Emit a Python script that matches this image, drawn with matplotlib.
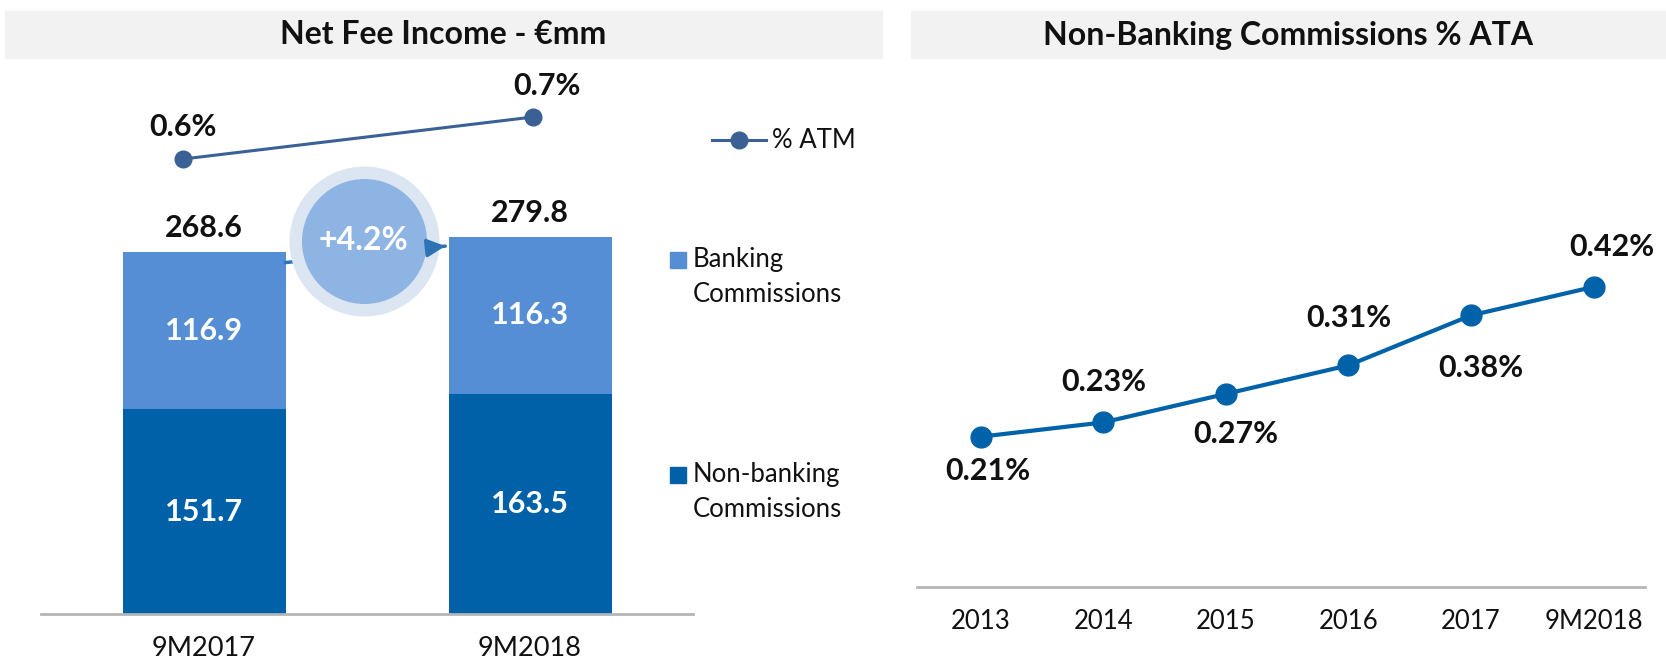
import matplotlib
matplotlib.use("Agg")
import matplotlib.pyplot as plt
from matplotlib.patches import Rectangle
from matplotlib.lines import Line2D

# ---------------- data ----------------
periods = ["9M2017", "9M2018"]
non_banking = [151.7, 163.5]
banking = [116.9, 116.3]
totals = [268.6, 279.8]
atm_pct = [0.6, 0.7]
growth_label = "+4.2%"

years = ["2013", "2014", "2015", "2016", "2017", "9M2018"]
ata_pct = [0.21, 0.23, 0.27, 0.31, 0.38, 0.42]

# ---------------- style ----------------
C_NONBANK = "#0061A8"
C_BANK = "#558ED5"
C_ATM = "#3A6095"
C_RIGHT = "#0062A9"
C_TITLEBAR = "#F2F2F2"
C_AXIS = "#B5B5B5"
C_TEXT = "#111111"
FONT = ["Lato", "DejaVu Sans"]
plt.rcParams["font.family"] = FONT
BW = "bold"
LBL = 22

W, H = 1666, 664
fig = plt.figure(figsize=(W / 100, H / 100), dpi=100)


def fxy(px, py):
    return px / W, 1 - py / H


def axrect(x0, x1, ytop, ybot):
    return [x0 / W, 1 - ybot / H, (x1 - x0) / W, (ybot - ytop) / H]


# title bars
for (x0, x1, title) in [(5, 882, "Net Fee Income - €mm"),
                        (911, 1666, "Non-Banking Commissions % ATA")]:
    fig.patches.append(Rectangle(fxy(x0, 58), (x1 - x0) / W, 47 / H,
                                 transform=fig.transFigure, color=C_TITLEBAR,
                                 zorder=0))
    fig.text(*fxy((x0 + x1) / 2, 35), title, ha="center", va="center",
             fontsize=23, fontweight=BW, color=C_TEXT)

# ---------------- left chart ----------------
ax = fig.add_axes(axrect(41, 693, 60, 614))
x = list(range(len(periods)))
ax.bar(x, non_banking, width=0.5, color=C_NONBANK, zorder=2)
ax.bar(x, banking, width=0.5, bottom=non_banking, color=C_BANK, zorder=2)
ax.set_xlim(-0.5, 1.5)
ax.set_ylim(0, 410.8)
for s in ["top", "right", "left"]:
    ax.spines[s].set_visible(False)
ax.spines["bottom"].set_color(C_AXIS)
ax.spines["bottom"].set_linewidth(2)
ax.set_yticks([])
ax.set_xticks(x)
ax.set_xticklabels(periods, fontsize=19.5, color=C_TEXT)
ax.tick_params(axis="x", length=0, pad=16)

for i in x:
    ax.text(i, non_banking[i] / 2, f"{non_banking[i]:.1f}", ha="center",
            va="center", color="white", fontsize=LBL, fontweight=BW, zorder=5)
    ax.text(i, non_banking[i] + banking[i] / 2, f"{banking[i]:.1f}", ha="center",
            va="center", color="white", fontsize=LBL, fontweight=BW, zorder=5)
    ax.annotate(f"{totals[i]:.1f}", (i, totals[i]), xytext=(0, 17),
                textcoords="offset points", ha="center", va="center",
                fontsize=LBL, fontweight=BW, color=C_TEXT)

# growth arrow + circle
y0a, y1a = totals[0] - 8, totals[1] - 7
ax.annotate("", xy=(0.74, y1a), xytext=(0.25, y0a),
            arrowprops=dict(arrowstyle="-", color="#2E74B5", lw=2.5,
                            shrinkA=0, shrinkB=0), zorder=3)
ax.scatter([0.49], [276.6], s=108 ** 2, color="#DCE6F2", zorder=4, linewidths=0)
ax.scatter([0.49], [276.6], s=90 ** 2, color="#8EB4E3", zorder=4, linewidths=0)
ax.annotate("", xy=(0.74, y1a), xytext=(0.70, y1a - 1),
            arrowprops=dict(arrowstyle="-|>", color="#2E74B5", lw=2.5,
                            mutation_scale=27, shrinkA=0, shrinkB=0), zorder=5)
ax.text(0.49, 276.6, growth_label, ha="center", va="center", color="white",
        fontsize=23, fontweight="bold", zorder=6)

# ATM line on overlay axes
axl = fig.add_axes(axrect(41, 693, 60, 614), facecolor="none")
axl.set_xlim(-0.406, 1.457)
axl.set_ylim(-0.483, 0.8357)
axl.axis("off")
axl.plot([0, 1], atm_pct, color=C_ATM, lw=2.2, marker="o", markersize=12,
         clip_on=False, zorder=5)
label_off = [(0, 23), (10, 22)]
for i, v in enumerate(atm_pct):
    axl.annotate(f"{v:.1f}%", (i, v), xytext=label_off[i],
                 textcoords="offset points", ha="center", va="center",
                 fontsize=LBL, fontweight=BW, color=C_TEXT)

# legend (manual)
fig.lines.append(Line2D([712 / W, 766 / W], [1 - 140 / H, 1 - 140 / H],
                        transform=fig.transFigure, color=C_ATM, lw=2.2))
fig.lines.append(Line2D([739 / W], [1 - 140 / H], transform=fig.transFigure,
                        color=C_ATM, marker="o", markersize=12))
fig.text(*fxy(772, 148), "% ATM", fontsize=18.5, color=C_TEXT, va="baseline")
for (ytop, lines, col) in [(252, ["Banking", "Commissions"], C_BANK),
                           (467, ["Non-banking", "Commissions"], C_NONBANK)]:
    fig.patches.append(Rectangle(fxy(670, ytop + 16), 16 / W, 16 / H,
                                 transform=fig.transFigure, color=col))
    for k, t in enumerate(lines):
        fig.text(*fxy(693, ytop + 15 + 35 * k), t, fontsize=18.5, color=C_TEXT,
                 va="baseline")

# ---------------- right chart ----------------
ax2 = fig.add_axes(axrect(917, 1645, 60, 586.5))
xr = list(range(len(years)))
ax2.plot(xr, ata_pct, color=C_RIGHT, lw=3, marker="o", markersize=15,
         clip_on=False, zorder=3)
ax2.set_xlim(-0.52, 5.42)
ax2.set_ylim(0, 0.738)
for s in ["top", "right", "left"]:
    ax2.spines[s].set_visible(False)
ax2.spines["bottom"].set_color(C_AXIS)
ax2.spines["bottom"].set_linewidth(2)
ax2.set_yticks([])
ax2.set_xticks(xr)
ax2.set_xticklabels(years, fontsize=18.5, color=C_TEXT)
ax2.tick_params(axis="x", length=0, pad=16)

r_off = [(5, -25), (0, 29), (7, -29), (0, 34), (7, -38), (13, 29)]
for i, v in enumerate(ata_pct):
    ax2.annotate(f"{v:.2f}%", (i, v), xytext=r_off[i],
                 textcoords="offset points", ha="center", va="center",
                 fontsize=LBL, fontweight=BW, color=C_TEXT,
                 annotation_clip=False)

fig.savefig("out.png", dpi=100)
